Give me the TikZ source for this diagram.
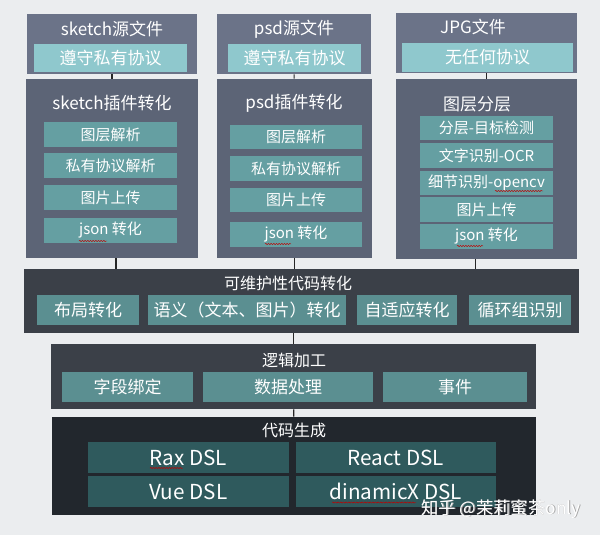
\documentclass[tikz,border=0pt]{standalone}
\usepackage{fontspec}
\setmainfont{Noto Sans CJK SC}
\usetikzlibrary{fit, decorations.pathmorphing}
\definecolor{bggray}{HTML}{EBEDEF}
\definecolor{srcblue}{HTML}{6B7388}
\definecolor{prototeal}{HTML}{8FC8CD}
\definecolor{plugslate}{HTML}{5C6476}
\definecolor{itemteal}{HTML}{659FA2}
\definecolor{barslate}{HTML}{3B4048}
\definecolor{baritem}{HTML}{5B8F91}
\definecolor{codedark}{HTML}{22272D}
\definecolor{codeitem}{HTML}{2F5A5D}

\begin{document}
\begin{tikzpicture}[x=0.75pt, y=-0.75pt,
    wh/.style 2 args={minimum width=#1*0.75pt, minimum height=#2*0.75pt},
    srcbox/.style={fill=srcblue, inner sep=0pt},
    plugbox/.style={fill=plugslate, inner sep=0pt},
    barbox/.style={fill=barslate, inner sep=0pt},
    codebox/.style={fill=codedark, inner sep=0pt},
    head/.style={text=white, font=\fontsize{12.75pt}{14pt}\selectfont, inner sep=0pt},
    subhead/.style={text=white, font=\fontsize{12pt}{14pt}\selectfont, inner sep=0pt},
    proto/.style={fill=prototeal, text=white, inner sep=0pt, font=\fontsize{12.75pt}{14pt}\selectfont},
    item/.style={fill=itemteal, text=white, inner sep=0pt, font=\fontsize{11.25pt}{13pt}\selectfont},
    bitem/.style={fill=baritem, text=white, inner sep=0pt, font=\fontsize{12.75pt}{14pt}\selectfont},
    citem/.style={fill=codeitem, text=white, inner sep=0pt, font=\fontsize{15.5pt}{17pt}\selectfont},
    link/.style={draw=black!85, line width=0.9pt},
    squig/.style={draw=red!75!black, line width=0.35pt, decorate, decoration={snake, amplitude=0.45pt, segment length=2pt}}]
    \fill[bggray] (0,0) rectangle (600,535);

    % source files
    \node[srcbox, fit={(27,14) (197,74)}] (sksrc) {};
    \node[srcbox, fit={(217,14) (371,74)}] (psdsrc) {};
    \node[srcbox, fit={(396,13) (577,73)}] (jpgsrc) {};
    % plugins
    \node[plugbox, fit={(26,79) (198,258)}] (skplug) {};
    \node[plugbox, fit={(217,79) (372,258)}] (psdplug) {};
    \node[plugbox, fit={(396,79) (577,259)}] (jpgplug) {};
    % lower stages
    \node[barbox, fit={(24,269) (579,333)}] (conv) {};
    \node[barbox, fit={(51,344) (536,409)}] (logic) {};
    \node[codebox, fit={(52,417) (536,515)}] (gen) {};

    \path[link] (sksrc) -- (skplug);
    \path[link] (psdsrc) -- (psdplug);
    \path[link] (jpgsrc) -- (jpgplug);
    \path[link] ([xshift=3pt]skplug.south) -- ([xshift=3pt]skplug.south |- conv.north);
    \path[link] (psdplug.south) -- (psdplug.south |- conv.north);
    \path[link] ([xshift=-8.5pt]jpgplug.south) -- ([xshift=-8.5pt]jpgplug.south |- conv.north);
    \path[link] (conv.south -| logic.north) -- (logic.north);
    \path[link] (logic) -- (gen);

    \node[head] (sktitle) at (112,29) {sketch源文件};
    \node[proto, wh={153}{28}] (skproto) at (110.5,58) {遵守私有协议};
    \node[head] (skhead) at (112,103) {sketch插件转化};
    \node[item, wh={133}{25}] (sk1) at (110.5,134.5) {图层解析};
    \node[item, wh={133}{25}] (sk2) at (110.5,165.5) {私有协议解析};
    \node[item, wh={133}{25}] (sk3) at (110.5,197.5) {图片上传};
    \node[item, wh={133}{25}] (sk4) at (110.5,230.5) {json 转化};

    \node[head] (psdtitle) at (294,29) {psd源文件};
    \node[proto, wh={133}{28}] (psdproto) at (294.5,58) {遵守私有协议};
    \node[head] (psdhead) at (294,103) {psd插件转化};
    \node[item, wh={132}{24}] (psd1) at (296,137) {图层解析};
    \node[item, wh={132}{25}] (psd2) at (296,168.5) {私有协议解析};
    \node[item, wh={132}{24}] (psd3) at (296,200) {图片上传};
    \node[item, wh={132}{25}] (psd4) at (296,234.5) {json 转化};

    \node[head] (jpgtitle) at (473,27) {JPG文件};
    \node[proto, wh={171}{29}] (jpgproto) at (487.5,57.5) {无任何协议};
    \node[head] (jpghead) at (477,104) {图层分层};
    \node[item, wh={133}{24}] (jpg1) at (486.5,128) {分层-目标检测};
    \node[item, wh={133}{25}] (jpg2) at (486.5,155.5) {文字识别-OCR};
    \node[item, wh={133}{24}] (jpg3) at (486.5,183) {细节识别-opencv};
    \node[item, wh={133}{25}] (jpg4) at (486.5,209.5) {图片上传};
    \node[item, wh={133}{25}] (jpg5) at (486.5,236.5) {json 转化};

    \node[subhead] (convhead) at (288,283) {可维护性代码转化};
    \node[bitem, wh={102}{30}] (conv1) at (88,310) {布局转化};
    \node[bitem, wh={198}{30}] (conv2) at (247,310) {语义（文本、图片）转化};
    \node[bitem, wh={100}{30}] (conv3) at (407,310) {自适应转化};
    \node[bitem, wh={102}{30}] (conv4) at (520,310) {循环组识别};

    \node[subhead] (logichead) at (294,360) {逻辑加工};
    \node[bitem, wh={131}{30}] (logic1) at (127.5,387) {字段绑定};
    \node[bitem, wh={170}{30}] (logic2) at (288,387) {数据处理};
    \node[bitem, wh={144}{30}] (logic3) at (455,387) {事件};

    \node[subhead] (genhead) at (294,430) {代码生成};
    \node[citem, wh={201}{31}] (gen1) at (188.5,457.5) {Rax DSL};
    \node[citem, wh={200}{31}] (gen2) at (396,457.5) {React DSL};
    \node[citem, wh={201}{31}] (gen3) at (188.5,491.5) {Vue DSL};
    \node[citem, wh={200}{31}] (gen4) at (396,491.5) {dinamicX DSL};

    % spell-check marks
    \path[squig] ([shift={(-31.5,10.5)}]sk4.center) -- ++(28,0);
    \path[squig] ([shift={(-31,9.5)}]psd4.center) -- ++(26,0);
    \path[squig] ([shift={(-29.5,9.5)}]jpg5.center) -- ++(26,0);
    \path[squig] ([shift={(8.5,8)}]jpg3.center) -- ++(48,0);
    \path[squig] ([shift={(-38.5,10.5)}]gen1.center) -- ++(33,0);
    \path[squig] ([shift={(-64,11)}]gen4.center) -- ++(84,0);

    \node[text=black!35, font=\fontsize{13pt}{15pt}\selectfont] at (501.6,509.6) {知乎 @茉莉蜜茶only};
    \node[text=white, font=\fontsize{13pt}{15pt}\selectfont] (mark) at (501,509) {知乎 @茉莉蜜茶only};
\end{tikzpicture}
\end{document}
